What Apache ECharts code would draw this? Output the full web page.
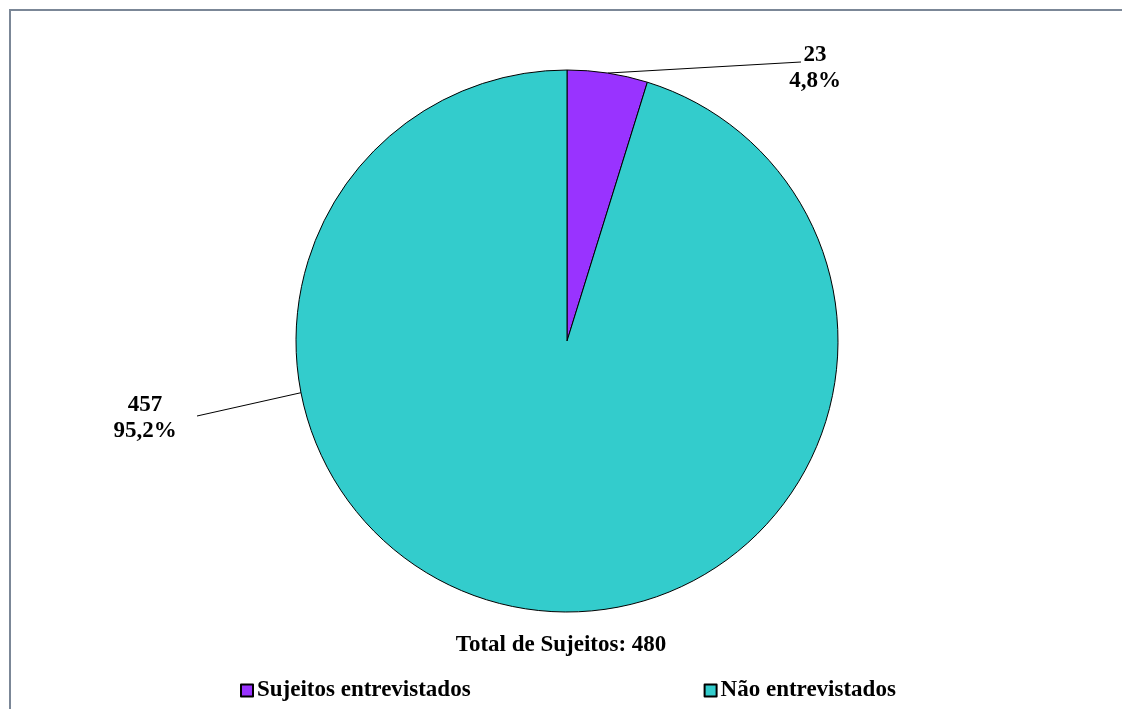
<!DOCTYPE html>
<html>
<head>
<meta charset="utf-8">
<script src="https://cdn.jsdelivr.net/npm/echarts@6/dist/echarts.min.js"></script>
<style>
  html, body { margin: 0; padding: 0; background: #fff; }
  #frame {
    position: absolute; left: 9px; top: 9px; right: 0; bottom: 0;
    border-left: 2px solid #7b8797; border-top: 2px solid #7b8797;
  }
  #chart { position: absolute; left: 0; top: 0; width: 1122px; height: 709px; }
</style>
</head>
<body>
<div id="frame"></div>
<div id="chart"></div>
<script>
// Interview coverage of the subject pool
const categories = ['Sujeitos entrevistados', 'Não entrevistados'];
const counts = [23, 457];
const colors = ['#9933FF', '#33CCCC'];

const total = counts.reduce((a, b) => a + b, 0);

// pie geometry (pixels)
const CX = 567, CY = 341, R = 271;
const FONT = '"Liberation Serif", "Times New Roman", serif';
const FS = 23;

// where each label sits and which point of the rim its leader starts from
const labelSpots = [
  { x: 815, y: 68, lineEnd: [801, 62], anchorDeg: null },
  { x: 145, y: 418, lineEnd: [197, 416], anchorDeg: 169 }
];

const chart = echarts.init(document.getElementById('chart'), null, { renderer: 'canvas' });

chart.setOption({
  animation: false,
  title: {
    text: 'Total de Sujeitos: ' + total,
    left: 'center',
    top: 634,
    padding: 0,
    textStyle: { fontFamily: FONT, fontWeight: 'bold', fontSize: FS, color: '#000' }
  },
  legend: {
    data: categories,
    left: 240,
    top: 679,
    padding: 0,
    itemWidth: 12,
    itemHeight: 12,
    itemGap: 233,
    icon: 'rect',
    textStyle: { fontFamily: FONT, fontWeight: 'bold', fontSize: FS, color: '#000', padding: [0, 0, 0, -1] }
  },
  series: [{
    type: 'pie',
    center: [CX, CY],
    radius: R,
    startAngle: 90,
    clockwise: true,
    avoidLabelOverlap: false,
    percentPrecision: 1,
    data: categories.map((name, i) => ({
      name: name,
      value: counts[i],
      itemStyle: { color: colors[i], borderColor: '#000', borderWidth: 1 }
    })),
    label: {
      show: true,
      position: 'outside',
      fontFamily: FONT,
      fontWeight: 'bold',
      fontSize: FS,
      lineHeight: 26,
      color: '#000',
      align: 'center',
      formatter: p => p.value + '\n' + p.percent.toFixed(1).replace('.', ',') + '%'
    },
    labelLine: {
      show: true,
      length: 10,
      length2: 10,
      smooth: false,
      lineStyle: { color: '#000', width: 1 }
    },
    labelLayout: function (params) {
      const spot = labelSpots[params.dataIndex];
      let start;
      if (spot.anchorDeg == null) {
        // middle of the slice's arc
        let before = 0;
        for (let i = 0; i < params.dataIndex; i++) before += counts[i];
        const midFrac = (before + counts[params.dataIndex] / 2) / total;
        const a = (-90 + midFrac * 360) * Math.PI / 180;
        start = [CX + R * Math.cos(a), CY + R * Math.sin(a)];
      } else {
        const a = spot.anchorDeg * Math.PI / 180;
        start = [CX + R * Math.cos(a), CY + R * Math.sin(a)];
      }
      return {
        x: spot.x,
        y: spot.y,
        align: 'center',
        verticalAlign: 'middle',
        labelLinePoints: [start, spot.lineEnd, spot.lineEnd]
      };
    }
  }]
});
</script>
</body>
</html>
